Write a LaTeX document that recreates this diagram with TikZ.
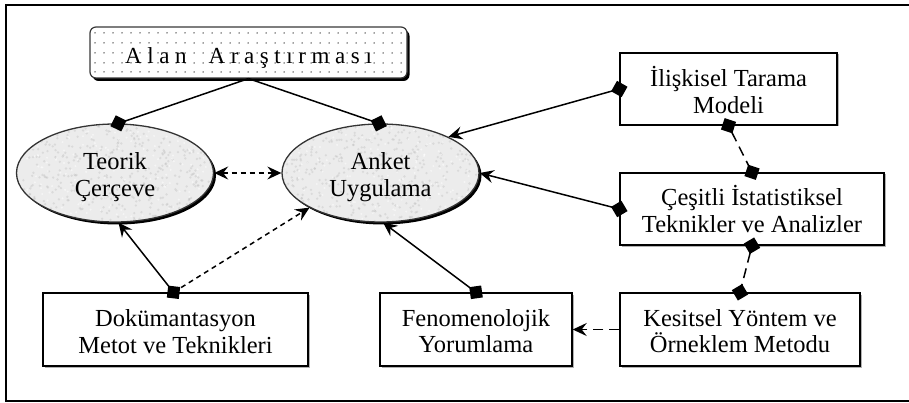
\documentclass[tikz,border=0pt]{standalone}
\usepackage{fontspec}
\setmainfont{Liberation Serif}
\usetikzlibrary{arrows.meta,shapes.geometric}

\newcommand\lsp{\hspace{5.6pt}}
\newcommand\noisyblob[2]{%
  \fill[black] ({#1+2.5},{#2+2.5}) ellipse [x radius=98.5pt, y radius=49pt];
  \fill[gray!15] (#1,#2) ellipse [x radius=98.5pt, y radius=49pt];
  \begin{scope}
    \clip (#1,#2) ellipse [x radius=98.5pt, y radius=49pt];
    \foreach \i in {1,...,450}{\fill[gray!55,opacity=0.35] ({#1+98*rand},{#2+49*rand}) circle (1.3pt);}
    \foreach \i in {1,...,200}{\fill[white,opacity=0.5] ({#1+98*rand},{#2+49*rand}) circle (1.1pt);}
  \end{scope}}

\tikzset{
  txt/.style={font=\fontsize{24.5}{26.5}\selectfont, align=center, inner sep=0pt},
  blob/.style={ellipse, draw=gray!40!black, line width=1.3pt, minimum width=197pt, minimum height=98pt, inner sep=0pt},
  box/.style={draw=black, line width=1.4pt, fill=white, inner sep=0pt},
  shadowbox/.style={fill=gray!60},
  conn/.style={line width=1.5pt},
  sdash/.style={conn, dash pattern=on 5pt off 4pt},
  ldash/.style={conn, dash pattern=on 10pt off 6pt},
  ahead/.tip={Stealth[length=14pt,width=13pt,inset=5pt]},
  dmark/.tip={Turned Square[length=17pt,width=17pt]}
}

\begin{document}
\begin{tikzpicture}[x=1pt,y=-1pt]
\useasboundingbox (0,0) rectangle (909,403);
\fill[white] (0,0) rectangle (909,403);

% outer frame
\draw[line width=2.3pt] (920,5) -- (6,5) -- (6,401) -- (920,401);

% Alan Arastirmasi box
\fill[black, rounded corners=6pt] (92.5,30) rectangle (409.5,81);
\fill[white, rounded corners=6pt] (90,27) rectangle (407,78);
\begin{scope}
  \clip[rounded corners=6pt] (90,27) rectangle (407,78);
  \foreach \x in {95,104,...,406}{\foreach \y in {33,43,53,63,72}{\fill[black!75] (\x,\y) circle (0.75pt);}}
\end{scope}
\node[draw=gray!45!black, line width=1.2pt, rounded corners=6pt, minimum width=317pt, minimum height=51pt, inner sep=0pt,
      label={[txt, font=\fontsize{23}{25}\selectfont, yshift=-5pt]center:A\lsp l\lsp a\lsp n\hspace{22pt}A\lsp r\lsp a\lsp ş\lsp t\lsp ı\lsp r\lsp m\lsp a\lsp s\lsp ı}]
  (alan) at (248.5,52.5) {};

% ellipses
\noisyblob{115}{173}
\noisyblob{380.5}{173}
\node[blob, label={[txt,yshift=-4pt]center:Teorik\\Çerçeve}] (teorik) at (115,173) {};
\node[blob, label={[txt,yshift=-4pt]center:Anket\\Uygulama}] (anket) at (380.5,173) {};

% shadows for boxes
\fill[shadowbox] (621.5,54.5) rectangle (838.5,126.5);
\fill[shadowbox] (621.5,174.5) rectangle (885.5,246.5);
\fill[shadowbox] (44.5,294.5) rectangle (309.5,367.5);
\fill[shadowbox] (381.5,294.5) rectangle (573.5,367.5);
\fill[shadowbox] (621.5,294.5) rectangle (861.5,367.5);

% boxes
\node[box, minimum width=217pt, minimum height=72pt,
      label={[txt,yshift=-1pt]center:İlişkisel Tarama\\Modeli}] (ilis) at (728.5,89) {};
\node[box, minimum width=264pt, minimum height=72pt,
      label={[txt,yshift=0pt]center:Çeşitli İstatistiksel\\Teknikler ve Analizler}] (cesitli) at (752,209) {};
\node[box, minimum width=265pt, minimum height=73pt,
      label={[txt,yshift=-2pt]center:Dokümantasyon\\Metot ve Teknikleri}] (doku) at (175.5,329.5) {};
\node[box, minimum width=192pt, minimum height=73pt,
      label={[txt,yshift=-1.5pt]center:Fenomenolojik\\Yorumlama}] (feno) at (476,329.5) {};
\node[box, minimum width=240pt, minimum height=73pt,
      label={[txt,yshift=-1.5pt]center:Kesitsel Yöntem ve\\Örneklem Metodu}] (kesit) at (740,329.5) {};

% connectors
\draw[conn, -dmark, shorten >=-8.5pt] (alan.south) -- (teorik.86);
\draw[conn, -dmark, shorten >=-8.5pt] (alan.south) -- (anket.92);
\draw[sdash, ahead-ahead] (teorik.east) -- (anket.west);
\draw[conn, dmark-ahead, shorten <=-8.5pt] (ilis.west) -- (anket.28);
\draw[conn, dmark-ahead, shorten <=-8.5pt] (cesitli.west) -- (anket.east);
\draw[ldash, dmark-dmark, shorten <=-8.5pt, shorten >=-8.5pt] (ilis.south) -- (cesitli.north);
\draw[ldash, dmark-dmark, shorten <=-8.5pt, shorten >=-8.5pt] (cesitli.south) -- (kesit.north);
\draw[ldash, -ahead] (kesit.west) -- (feno.east);
\draw[conn, dmark-ahead, shorten <=-8.5pt] (feno.north) -- (anket.-87);
\coordinate (dtop) at ([xshift=-2pt]doku.north);
\draw[sdash, -ahead] (dtop) -- (anket.206);
\draw[conn, dmark-ahead, shorten <=-8.5pt] (dtop) -- (teorik.-86);
\end{tikzpicture}
\end{document}
